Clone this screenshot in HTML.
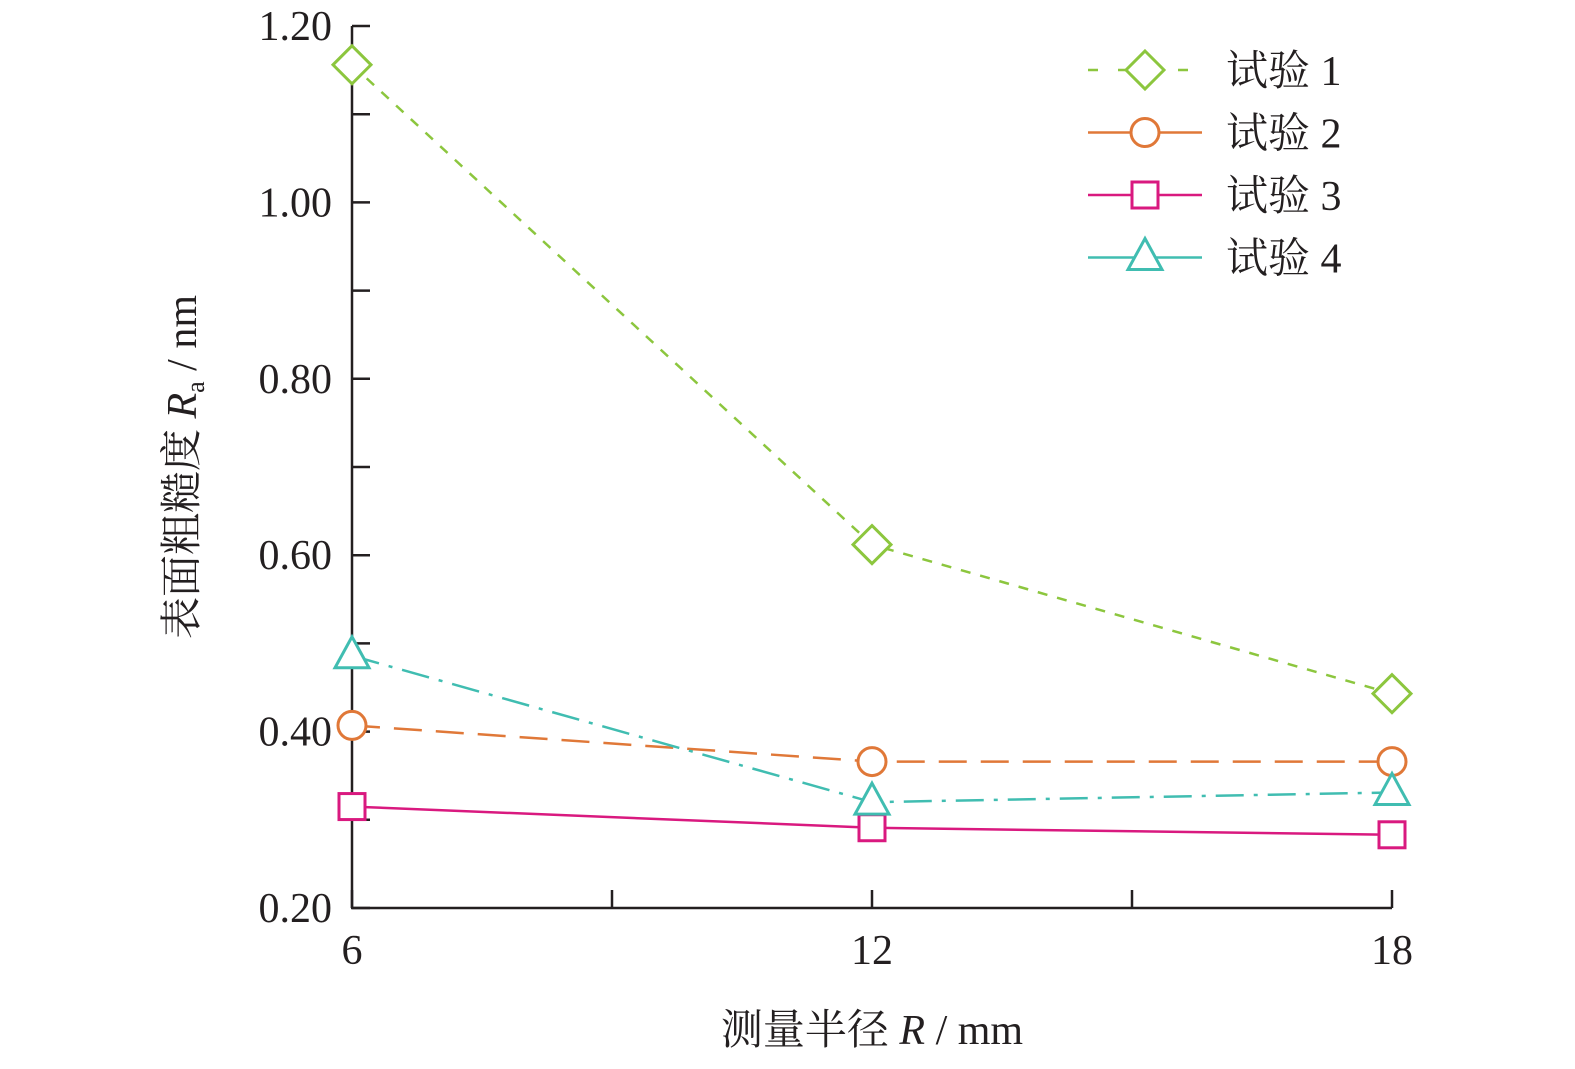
<!DOCTYPE html>
<html><head><meta charset="utf-8"><style>
body{margin:0;background:#fff}
svg text{font-family:"Liberation Serif","Noto Serif CJK SC",serif;fill:#231f20}
</style></head><body>
<svg width="1575" height="1064" viewBox="0 0 1575 1064" xmlns="http://www.w3.org/2000/svg">
<g id="axes"></g>
<g id="series"></g>
<g id="legend"></g>
<text x="872" y="1044" font-size="42" text-anchor="middle">测量半径 <tspan font-style="italic">R</tspan> / mm</text>
<text transform="translate(196,467) rotate(-90)" font-size="42" text-anchor="middle">表面粗糙度 <tspan font-style="italic">R</tspan><tspan font-size="26" dy="8">a</tspan><tspan dy="-8"> / nm</tspan></text>
</svg>
<script>
const xCategories=[6,12,18];
const xTickLabels=["6","12","18"];
const yTickValues=[0.2,0.4,0.6,0.8,1.0,1.2];
const yTickLabels=["0.20","0.40","0.60","0.80","1.00","1.20"];
const seriesNames=["试验 1","试验 2","试验 3","试验 4"];
const trial1=[1.156,0.612,0.443];
const trial2=[0.407,0.366,0.366];
const trial3=[0.315,0.291,0.283];
const trial4=[0.486,0.320,0.331];
const NS="http://www.w3.org/2000/svg";
const X0=352,X1=1392,Y0=908,Y1=26;
const xs=v=>X0+(v-6)/(18-6)*(X1-X0);
const ys=v=>Y0-(v-0.2)/(1.2-0.2)*(Y0-Y1);
function mk(tag,attrs,parent){const e=document.createElementNS(NS,tag);for(const k in attrs)e.setAttribute(k,attrs[k]);parent.appendChild(e);return e;}
const axes=document.getElementById('axes');
let e=mk('line',{x1:X0,y1:Y1,x2:X0,y2:Y0,stroke:'#231f20','stroke-width':2.5},axes);


e=mk('line',{x1:X0-1,y1:Y0,x2:X1,y2:Y0,stroke:'#231f20','stroke-width':2.5},axes);


for(let v=0.2;v<=1.2001;v+=0.1){
  e=mk('line',{x1:X0,y1:ys(v),x2:X0+18,y2:ys(v),stroke:'#231f20','stroke-width':2.5},axes);
  
  
}
yTickValues.forEach((v,i)=>{
  e=mk('text',{x:332,y:ys(v)+14,'font-size':42,'text-anchor':'end'},axes);e.textContent=yTickLabels[i];
  
  
});
for(let v=6;v<=18;v+=3){
  e=mk('line',{x1:xs(v),y1:Y0,x2:xs(v),y2:Y0-18,stroke:'#231f20','stroke-width':2.5},axes);
  
  
}
xCategories.forEach((v,i)=>{
  e=mk('text',{x:xs(v),y:964,'font-size':42,'text-anchor':'middle'},axes);e.textContent=xTickLabels[i];
  
  
});
const styles=[
 {c:'#8cc63e',dash:'10,10',m:'diamond',data:trial1},
 {c:'#e07838',dash:'28,14',m:'circle',data:trial2},
 {c:'#d9197f',dash:'',m:'square',data:trial3},
 {c:'#40bdb1',dash:'28,10,4,10',m:'triangle',data:trial4}
];
function marker(type,cx,cy,col,parent){
  const a={fill:'#fff',stroke:col,'stroke-width':3};
  if(type==='diamond')return mk('polygon',Object.assign({points:`${cx},${cy-19} ${cx+19},${cy} ${cx},${cy+19} ${cx-19},${cy}`},a),parent);
  if(type==='circle')return mk('circle',Object.assign({cx,cy,r:14},a),parent);
  if(type==='square')return mk('rect',Object.assign({x:cx-13,y:cy-13,width:26,height:26},a),parent);
  return mk('polygon',Object.assign({points:`${cx},${cy-19} ${cx+17},${cy+12} ${cx-17},${cy+12}`},a),parent);
}
const sg=document.getElementById('series');
const lg=document.getElementById('legend');
styles.forEach((s,i)=>{
  const pts=s.data.map((v,j)=>xs(xCategories[j])+','+ys(v)).join(' ');
  e=mk('polyline',{points:pts,fill:'none',stroke:s.c,'stroke-width':2.5,'stroke-dasharray':s.dash},sg);
  
  
  s.data.forEach((v,j)=>{
    e=marker(s.m,xs(xCategories[j]),ys(v),s.c,sg);
    
    
  });
  const ly=70+i*62.5;
  e=mk('line',{x1:1088,y1:ly,x2:1202,y2:ly,stroke:s.c,'stroke-width':2.5,'stroke-dasharray':i===0?'10,20':''},lg);
  
  
  e=marker(s.m,1145,ly,s.c,lg);
  
  
  e=mk('text',{x:1226,y:ly+15,'font-size':42},lg);e.textContent=seriesNames[i];
  
  
});
</script>
</body></html>
